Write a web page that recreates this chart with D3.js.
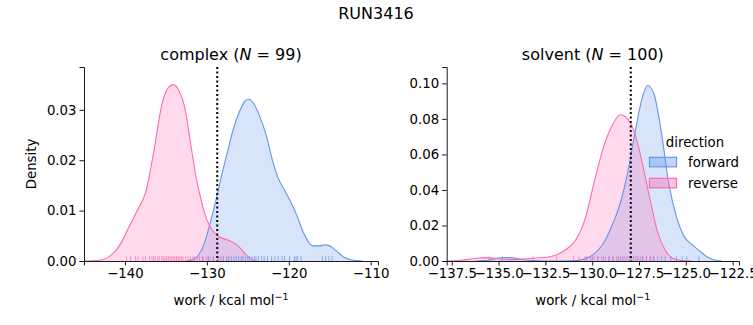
<!DOCTYPE html>
<html><head><meta charset="utf-8">
<script src="https://cdn.jsdelivr.net/npm/d3@7"></script>
<style>
body{margin:0;background:#fff;}
svg{font-family:"DejaVu Sans",sans-serif;}
</style></head>
<body><svg id="c" width="753" height="325"></svg>
<script>
// ---------- data ----------
const suptitle = "RUN3416";
const directions = ["forward", "reverse"];
const colors = {forward: "#6495ED", reverse: "#FF69B4"};

// complex panel: KDE curves [work, density]
const complexForward = [[-132.5,0],[-131.7,0.0003],[-131,0.0012],[-130.3,0.0035],[-129.6,0.0075],[-128.9,0.0120],[-128.2,0.0170],[-127.5,0.0215],[-126.8,0.0260],[-126,0.0297],[-125.3,0.0318],[-124.9,0.0321],[-124.3,0.0313],[-123.5,0.0285],[-122.7,0.0247],[-122,0.0200],[-121.3,0.0165],[-120.5,0.0140],[-119.7,0.0115],[-119,0.0090],[-118.3,0.0060],[-117.6,0.0038],[-117,0.0030],[-116.3,0.0030],[-115.6,0.0032],[-115,0.0030],[-114.2,0.0020],[-113.3,0.0008],[-112.3,0.0002],[-111,0]];
const complexReverse = [[-145,0],[-143.5,0.0001],[-142.5,0.0004],[-141.5,0.0014],[-140.5,0.0035],[-139.5,0.0068],[-138.5,0.0100],[-137.5,0.0135],[-136.5,0.0215],[-135.5,0.0310],[-134.8,0.0342],[-134.1,0.0350],[-133.4,0.0338],[-132.7,0.0305],[-132,0.0235],[-131.3,0.0165],[-130.6,0.0115],[-130,0.0082],[-129.3,0.0060],[-128.5,0.0048],[-127.5,0.0042],[-126.8,0.0037],[-126,0.0027],[-125.2,0.0012],[-124.5,0.0003],[-123.8,0]];
const complexRugForward = [-130.5,-129.8,-129.2,-128.6,-128.3,-128.0,-127.6,-127.3,-127.0,-126.7,-126.4,-126.1,-125.8,-125.6,-125.3,-125.0,-124.8,-124.5,-124.2,-124.0,-123.7,-123.3,-123.0,-122.6,-122.1,-121.7,-121.3,-120.8,-120.5,-119.9,-119.3,-119.1,-118.9,-118.5,-115.9,-115.5,-115.1,-114.7];
const complexRugReverse = [-139.8,-139.3,-138.7,-138.4,-137.8,-137.5,-137.0,-136.7,-136.5,-136.3,-136.0,-135.8,-135.5,-135.3,-135.1,-134.9,-134.7,-134.5,-134.3,-134.1,-133.9,-133.7,-133.5,-133.3,-133.1,-132.9,-132.6,-132.3,-132.0,-131.7,-131.5,-131.2,-130.9,-130.5,-130.0,-129.6,-129.2,-128.6,-128.0,-127.4];
const complexMean = -128.73;

// solvent panel
const solventForward = [[-136.2,0],[-135.5,0.0006],[-134.9,0.0018],[-134.4,0.0019],[-133.8,0.0009],[-133.2,0.0002],[-132.5,0],[-131.5,0],[-130.9,0.0002],[-130.4,0.0012],[-129.9,0.0040],[-129.4,0.0100],[-128.9,0.0210],[-128.5,0.0325],[-128.1,0.0500],[-127.7,0.0730],[-127.35,0.0910],[-127.04,0.0988],[-126.7,0.0940],[-126.3,0.0720],[-125.9,0.0430],[-125.5,0.0250],[-125.1,0.0140],[-124.7,0.0095],[-124.3,0.0060],[-123.9,0.0025],[-123.5,0.0007],[-123.1,0]];
const solventReverse = [[-137.7,0],[-137,0.0004],[-136.3,0.0013],[-135.7,0.0019],[-135,0.0014],[-134.3,0.0008],[-133.7,0.0011],[-133,0.0017],[-132.4,0.0021],[-131.9,0.0035],[-131.4,0.0065],[-130.9,0.0115],[-130.4,0.0230],[-129.9,0.0440],[-129.4,0.0640],[-128.9,0.0770],[-128.5,0.0823],[-128.1,0.0800],[-127.7,0.0710],[-127.3,0.0540],[-126.9,0.0340],[-126.5,0.0160],[-126.1,0.0060],[-125.7,0.0015],[-125.2,0.0002],[-124.7,0]];
const solventRugForward = [-134.8,-130.3,-130.0,-129.7,-129.4,-129.1,-128.9,-128.6,-128.4,-128.2,-128.0,-127.8,-127.6,-127.4,-127.3,-127.1,-126.9,-126.7,-126.5,-126.3,-126.1,-125.8,-125.5,-125.2,-124.95,-124.3];
const solventRugReverse = [-135.5,-133.15,-131.9,-131.0,-130.7,-130.4,-130.1,-129.9,-129.7,-129.5,-129.3,-129.1,-128.9,-128.7,-128.5,-128.3,-128.1,-127.9,-127.7,-127.5,-127.3,-127.1,-126.9,-126.75];
const solventMean = -127.94;

const complexXTicks = [-140,-130,-120,-110];
const complexYTicks = [0,0.01,0.02,0.03];
const solventXTicks = [-137.5,-135,-132.5,-130,-127.5,-125,-122.5];
const solventYTicks = [0,0.02,0.04,0.06,0.08,0.10];

// ---------- drawing ----------
const svg = d3.select("#c");
const FS = 13.3;

svg.append("text").attr("x",376).attr("y",19).attr("text-anchor","middle")
  .attr("font-size",16).text(suptitle);

function panel(opt){
  const {x0,x1,y0,y1,xdom,ydom,xt,yt,xfmt,yfmt,curves,rugs,mean,name,N,ylabel} = opt;
  const x = d3.scaleLinear().domain(xdom).range([x0,x1]);
  const y = d3.scaleLinear().domain(ydom).range([y1,y0]);
  const g = svg.append("g");
  const area = d3.area().x(d=>x(d[0])).y0(y(0)).y1(d=>y(d[1])).curve(d3.curveMonotoneX);
  const line = d3.line().x(d=>x(d[0])).y(d=>y(d[1])).curve(d3.curveMonotoneX);
  directions.forEach(dir=>{
    g.append("path").attr("d",area(curves[dir])).attr("fill",colors[dir]).attr("fill-opacity",0.25).attr("stroke","none");
  });
  directions.forEach(dir=>{
    g.append("path").attr("d",line(curves[dir])).attr("fill","none").attr("stroke",colors[dir]).attr("stroke-width",1.1);
  });
  const rh = (y1-y0)*0.025;
  directions.forEach(dir=>{
    g.selectAll(null).data(rugs[dir]).join("line")
      .attr("x1",d=>x(d)).attr("x2",d=>x(d)).attr("y1",y(0)).attr("y2",y(0)-rh)
      .attr("stroke",colors[dir]).attr("stroke-width",1).attr("stroke-opacity",0.7);
  });
  g.append("line").attr("x1",x(mean)).attr("x2",x(mean)).attr("y1",y0).attr("y2",y1)
    .attr("stroke","#000").attr("stroke-width",2).attr("stroke-dasharray","2,2.5");
  // axes
  const xa = g.append("g").attr("transform",`translate(0,${y1})`)
    .call(d3.axisBottom(x).tickValues(xt).tickFormat(xfmt).tickSizeOuter(0).tickSize(4.5).tickPadding(3));
  const ya = g.append("g").attr("transform",`translate(${x0},0)`)
    .call(d3.axisLeft(y).tickValues(yt).tickFormat(yfmt).tickSizeOuter(0).tickSize(4.5).tickPadding(3));
  [xa,ya].forEach(a=>{
    a.selectAll("text").attr("font-size",FS).attr("font-family","DejaVu Sans").attr("fill","#000");
    a.selectAll("line").attr("stroke","#000").attr("stroke-width",0.9);
    a.select(".domain").attr("stroke","#000").attr("stroke-width",0.9);
  });
  // title
  const t = svg.append("text").attr("x",(x0+x1)/2).attr("y",60).attr("text-anchor","middle").attr("font-size",16);
  t.append("tspan").text(name+" (");
  t.append("tspan").attr("font-style","italic").text("N");
  t.append("tspan").text(" = "+N+")");
  // xlabel
  const xl = svg.append("text").attr("x",(x0+x1)/2).attr("y",305).attr("text-anchor","middle").attr("font-size",FS);
  xl.append("tspan").text("work / kcal mol");
  xl.append("tspan").attr("dy",-5).attr("font-size",9.5).text("−1");
  if(ylabel){
    svg.append("text").attr("transform",`translate(36,${(y0+y1)/2}) rotate(-90)`).attr("text-anchor","middle").attr("font-size",FS).text(ylabel);
  }
  return {x,y};
}

panel({x0:84,x1:378,y0:67,y1:261,xdom:[-145.0,-109.1],ydom:[0,0.0385],xt:complexXTicks,yt:complexYTicks,
  xfmt:d3.format("d"),yfmt:d3.format(".2f"),
  curves:{forward:complexForward,reverse:complexReverse},rugs:{forward:complexRugForward,reverse:complexRugReverse},
  mean:complexMean,name:"complex",N:99,ylabel:"Density"});
panel({x0:446.7,x1:739,y0:67,y1:261,xdom:[-137.77,-122.16],ydom:[0,0.1092],xt:solventXTicks,yt:solventYTicks,
  xfmt:d3.format(".1f"),yfmt:d3.format(".2f"),
  curves:{forward:solventForward,reverse:solventReverse},rugs:{forward:solventRugForward,reverse:solventRugReverse},
  mean:solventMean,name:"solvent",N:100,ylabel:null});

// legend
const lg = svg.append("g");
lg.append("text").attr("x",695).attr("y",146.5).attr("text-anchor","middle").attr("font-size",FS).text("direction");
directions.forEach((dir,i)=>{
  const yy = 157.3 + i*21;
  lg.append("rect").attr("x",649.5).attr("y",yy).attr("width",27).attr("height",9.5)
    .attr("fill",colors[dir]).attr("fill-opacity",0.4).attr("stroke",colors[dir]).attr("stroke-width",1.2);
  lg.append("text").attr("x",688).attr("y",yy+9.5).attr("font-size",FS).text(dir);
});
</script></body></html>
